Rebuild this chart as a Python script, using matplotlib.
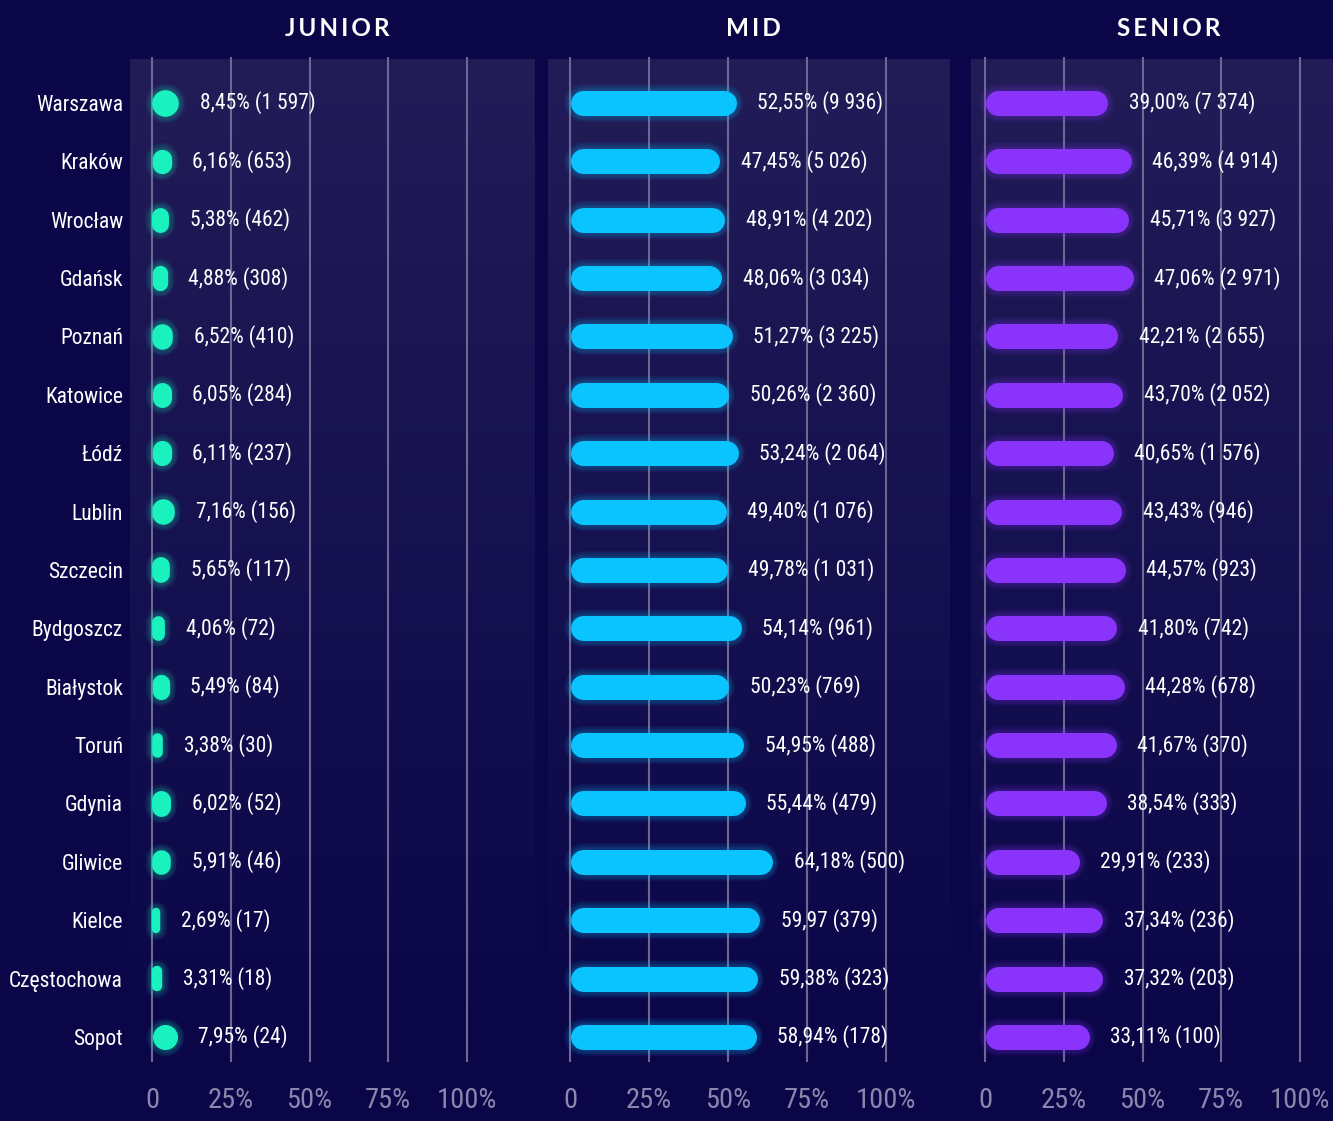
import numpy as np
import matplotlib
matplotlib.use("Agg")
import matplotlib.pyplot as plt
from matplotlib import font_manager as fm

cities = ["Warszawa", "Kraków", "Wrocław", "Gdańsk", "Poznań", "Katowice", "Łódź",
          "Lublin", "Szczecin", "Bydgoszcz", "Białystok", "Toruń", "Gdynia", "Gliwice",
          "Kielce", "Częstochowa", "Sopot"]
junior_pct = [8.45, 6.16, 5.38, 4.88, 6.52, 6.05, 6.11, 7.16, 5.65, 4.06, 5.49, 3.38,
              6.02, 5.91, 2.69, 3.31, 7.95]
junior_cnt = [1597, 653, 462, 308, 410, 284, 237, 156, 117, 72, 84, 30, 52, 46, 17, 18, 24]
mid_pct = [52.55, 47.45, 48.91, 48.06, 51.27, 50.26, 53.24, 49.40, 49.78, 54.14, 50.23,
           54.95, 55.44, 64.18, 59.97, 59.38, 58.94]
mid_cnt = [9936, 5026, 4202, 3034, 3225, 2360, 2064, 1076, 1031, 961, 769, 488, 479, 500,
           379, 323, 178]
senior_pct = [39.00, 46.39, 45.71, 47.06, 42.21, 43.70, 40.65, 43.43, 44.57, 41.80, 44.28,
              41.67, 38.54, 29.91, 37.34, 37.32, 33.11]
senior_cnt = [7374, 4914, 3927, 2971, 2655, 2052, 1576, 946, 923, 742, 678, 370, 333, 233,
              236, 203, 100]
titles = ["JUNIOR", "MID", "SENIOR"]
tick_vals = [0, 25, 50, 75, 100]
tick_labels = ["0", "25%", "50%", "75%", "100%"]

names = {f.name for f in fm.fontManager.ttflist}
cond = "Roboto Condensed" if "Roboto Condensed" in names else (
    "Liberation Sans Narrow" if "Liberation Sans Narrow" in names else "DejaVu Sans")

W, H = 1333, 1121
BG = "#0b0648"
fig = plt.figure(figsize=(W / 100, H / 100), dpi=100, facecolor=BG)

def fmt_num(n):
    return f"{n:,}".replace(",", " ")

def fmt_pct(p):
    return f"{p:.2f}".replace(".", ",") + "%"

PT = 72 / 100.0  # points per pixel

panels = [
    dict(pct=junior_pct, cnt=junior_cnt, color="#19f2bf", x0=130, x1=535, z=152, h=467, title_x=337),
    dict(pct=mid_pct, cnt=mid_cnt, color="#0ac4ff", x0=548, x1=950, z=570, h=886, title_x=753),
    dict(pct=senior_pct, cnt=senior_cnt, color="#8a34fb", x0=971, x1=1333, z=985, h=1300, title_x=1169),
]
TOP, BOT = 57, 1062
ROW0, ROWSTEP = 103, (1037 - 103) / 16
BAR_H = 25

for k, p in enumerate(panels):
    s = (p["h"] - p["z"]) / 100.0
    xl = (p["x0"] - p["z"]) / s
    xr = (p["x1"] - p["z"]) / s
    yt = (TOP - ROW0) / ROWSTEP
    yb = (BOT - ROW0) / ROWSTEP
    ax = fig.add_axes([p["x0"] / W, 1 - BOT / H, (p["x1"] - p["x0"]) / W, (BOT - TOP) / H])
    ax.set_facecolor(BG)
    for sp in ax.spines.values():
        sp.set_visible(False)
    grad = np.linspace(1, 0, 256).reshape(-1, 1) ** 1.1
    top_c = np.array([0x22, 0x1d, 0x57]) / 255
    bg_c = np.array([0x0b, 0x06, 0x48]) / 255
    img = bg_c + (top_c - bg_c) * grad[..., None]
    ax.imshow(img, extent=[xl, xr, yb, (60 - ROW0) / ROWSTEP], aspect="auto", zorder=0,
              interpolation="bicubic")
    ax.set_xlim(xl, xr)
    ax.set_ylim(yb, yt)
    ax.set_xticks(tick_vals)
    ax.set_xticklabels(tick_labels)
    ax.grid(axis="x", color="#6d6893", lw=1.5, zorder=1)
    ax.set_axisbelow(True)
    ax.tick_params(axis="x", length=0, pad=18, labelcolor="#8a86ad", labelsize=20.5)
    for lab in ax.get_xticklabels():
        lab.set_family(cond)
    ypos = np.arange(len(cities))
    ax.set_yticks(ypos)
    if k == 0:
        ax.set_yticklabels(cities, color="white", fontsize=15.5, family=cond)
        ax.tick_params(axis="y", length=0, pad=5)
    else:
        ax.set_yticklabels([])
        ax.tick_params(axis="y", length=0)
    for i, (v, c) in enumerate(zip(p["pct"], p["cnt"])):
        w_px = v * s
        if abs(w_px - BAR_H) < 2:
            for g in range(5):
                ax.plot([v / 2], [i], marker="o", ms=(w_px + 3 + 2.5 * g) * PT, mew=0,
                        color=p["color"], alpha=0.06, zorder=2)
            ax.plot([v / 2], [i], marker="o", ms=w_px * PT, mew=0, color=p["color"], zorder=3)
        else:
            if w_px > BAR_H:
                r = BAR_H / 2 / s
                xs, ys = [r, v - r], [i, i]
                lw_px = BAR_H
            else:
                half = (BAR_H - w_px) / 2 / ROWSTEP
                xs, ys = [v / 2, v / 2], [i - half, i + half]
                lw_px = w_px
            for g in range(5):
                ax.plot(xs, ys, color=p["color"], lw=(lw_px + 3 + 2.5 * g) * PT,
                        solid_capstyle="round", alpha=0.06, zorder=2)
            ax.plot(xs, ys, color=p["color"], lw=lw_px * PT, solid_capstyle="round", zorder=3)
        pct_txt = fmt_pct(v)
        if k == 1 and i == 14:
            pct_txt = pct_txt.rstrip("%")
        ax.text(v + 21 / s, i, f"{pct_txt} ({fmt_num(c)})", color="white", fontsize=15.5,
                va="center", ha="left", zorder=4, family=cond)
    fig.text(p["title_x"] / W, 1 - 28 / H, "\u2009".join(titles[k]), color="white",
             fontsize=17.5, fontweight="bold", family="Lato", ha="center", va="center")

fig.savefig("out.png", dpi=100, facecolor=BG)
